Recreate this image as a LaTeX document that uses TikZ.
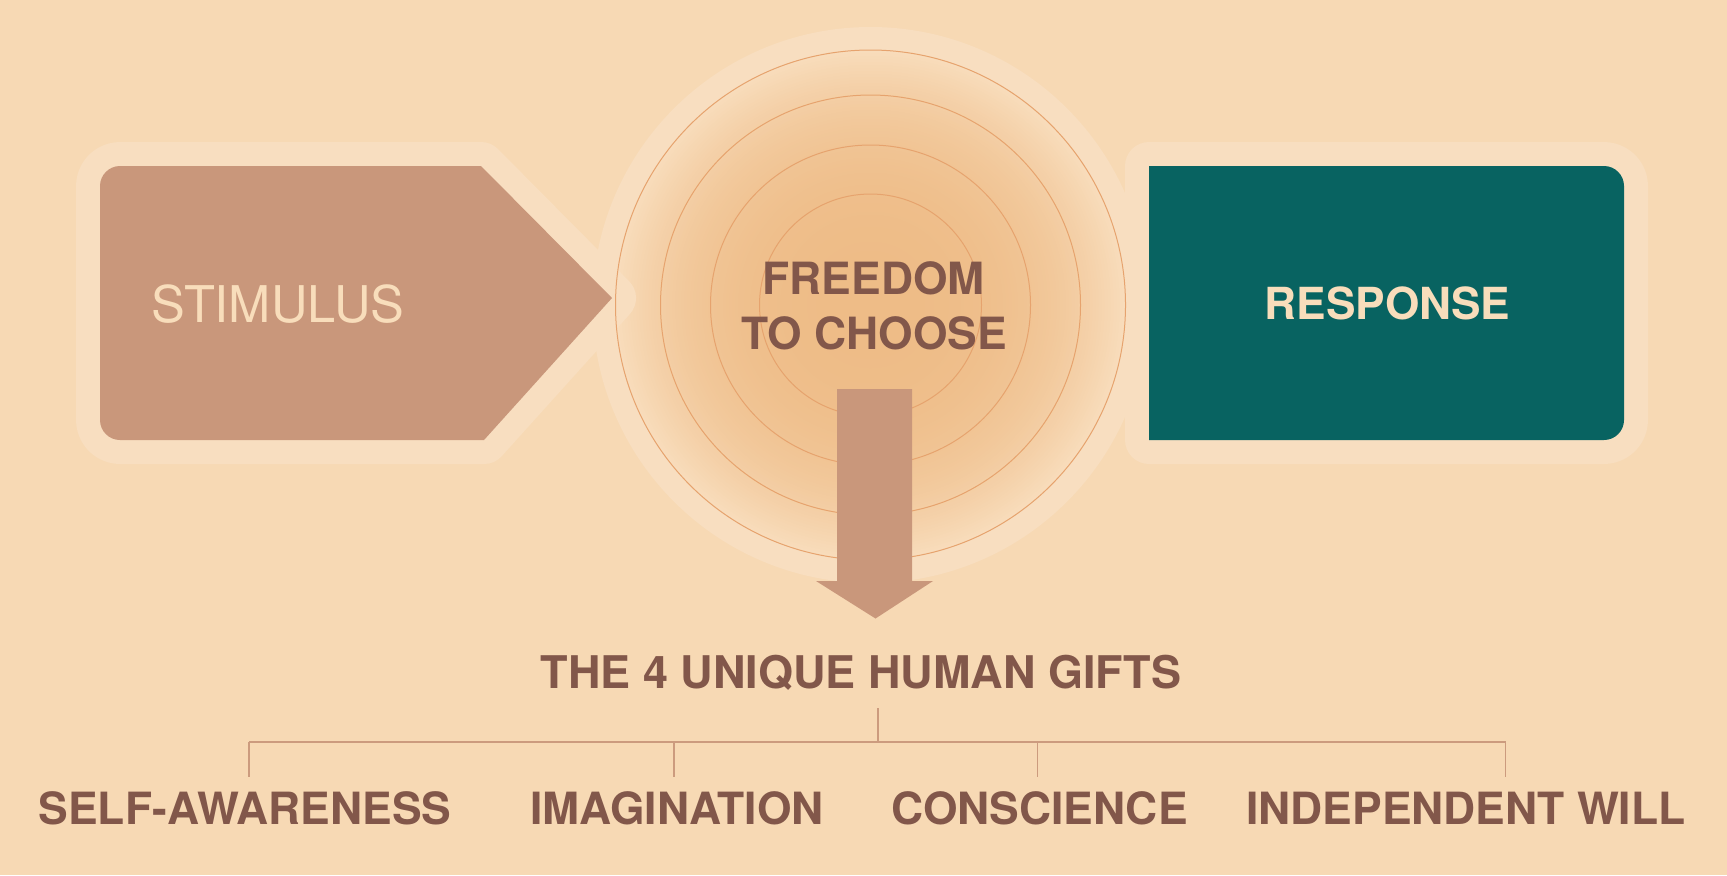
\documentclass[tikz,border=0pt]{standalone}
\usepackage{fontspec}
\setmainfont{TeX Gyre Heros}
\definecolor{bg}{HTML}{F7D9B4}
\definecolor{glow}{HTML}{F8DEC0}
\definecolor{tanfill}{HTML}{C9977B}
\definecolor{tealbox}{HTML}{086361}
\definecolor{txtbrown}{HTML}{82574A}
\definecolor{lighttxt}{HTML}{F8DDBB}
\definecolor{ringline}{HTML}{E6A36E}
\definecolor{treeline}{HTML}{CC9B7E}
\definecolor{cA}{HTML}{EEBC87}
\definecolor{cF}{HTML}{F8DCBB}
\tikzset{
  boxglow/.style={draw=glow, fill=glow, line width=24pt, line join=round},
  ring/.style={draw=ringline, line width=0.5pt},
  treeconn/.style={draw=treeline, line width=0.75pt},
  boxlabel/.style={text=lighttxt, anchor=base, inner sep=0pt},
  giftlabel/.style={text=txtbrown, font=\bfseries\fontsize{22.2}{26}\selectfont, anchor=base, inner sep=0pt},
}
\begin{document}
\begin{tikzpicture}[x=0.5pt,y=-0.5pt]
\useasboundingbox (0,0) rectangle (1727,875);
\fill[bg] (0,0) rectangle (1727,875);
% central disc
\coordinate (c) at (870.5,305);
\fill[glow] (c) circle[radius=139pt];
\foreach \i in {0,...,84} {
  \pgfmathsetmacro\rr{127.5*(1-\i/85)}
  \pgfmathsetmacro\pp{100*(1-\i/85)^3}
  \fill[color=cF!\pp!cA] (c) circle[radius=\rr pt];
}
% stimulus
\path[boxglow] (481,166) -- (612,298) -- (484,440) -- (120,440) .. controls (109,440) and (100,431) .. (100,420) -- (100,186) .. controls (100,175) and (109,166) .. (120,166) -- cycle;
\fill[tanfill] (481,166) -- (612,298) -- (484,440) -- (120,440) .. controls (109,440) and (100,431) .. (100,420) -- (100,186) .. controls (100,175) and (109,166) .. (120,166) -- cycle;
% response
\path[boxglow] (1149,166) -- (1604,166) .. controls (1615,166) and (1624,175) .. (1624,186) -- (1624,420) .. controls (1624,431) and (1615,440) .. (1604,440) -- (1149,440) -- cycle;
\fill[tealbox] (1149,166) -- (1604,166) .. controls (1615,166) and (1624,175) .. (1624,186) -- (1624,420) .. controls (1624,431) and (1615,440) .. (1604,440) -- (1149,440) -- cycle;
% rings
\draw[ring] (c) circle[radius=127.5pt];
\draw[ring] (c) circle[radius=105pt];
\draw[ring] (c) circle[radius=80pt];
\draw[ring] (c) circle[radius=55.5pt];
% down arrow
\fill[tanfill] (837,389) -- (912,389) -- (912,581) -- (933,581) -- (875.5,618.5) -- (816,581) -- (837,581) -- cycle;
% labels
\node[boxlabel, font=\fontsize{25.3}{28}\selectfont] (stim) at (278,322) {STIMULUS};
\node[boxlabel, font=\bfseries\fontsize{22.1}{26}\selectfont] (resp) at (1387.5,319) {RESPONSE};
\node[giftlabel] (free1) at (873.7,294.5) {FREEDOM};
\node[giftlabel] (free2) at (874,349.5) {TO CHOOSE};
\node[giftlabel, font=\bfseries\fontsize{22.5}{26}\selectfont] (gifts) at (861,688.5) {THE 4 UNIQUE HUMAN GIFTS};
\node[giftlabel] (g1) at (245,824) {SELF-AWARENESS};
\node[giftlabel] (g2) at (677,824) {IMAGINATION};
\node[giftlabel] (g3) at (1039.5,824) {CONSCIENCE};
\node[giftlabel] (g4) at (1466,824) {INDEPENDENT WILL};
% tree
\coordinate (stem) at (878,708);
\coordinate (bus) at (878,742);
\coordinate (b1) at (249,742);
\coordinate (b2) at (674,742);
\coordinate (b3) at (1037.5,742);
\coordinate (b4) at (1505.5,742);
\coordinate (d1) at (249,777);
\coordinate (d2) at (674,777);
\coordinate (d3) at (1037.5,777);
\coordinate (d4) at (1505.5,777);
\draw[treeconn] (stem) -- (bus);
\draw[treeconn] (b1) -- (b4);
\draw[treeconn] (b1) -- (d1);
\draw[treeconn] (b2) -- (d2);
\draw[treeconn] (b3) -- (d3);
\draw[treeconn] (b4) -- (d4);
\end{tikzpicture}
\end{document}
